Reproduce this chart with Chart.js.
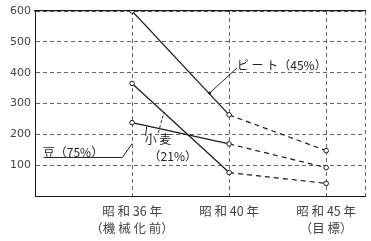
<!DOCTYPE html>
<html>
<head>
<meta charset="utf-8">
<script src="https://cdn.jsdelivr.net/npm/chart.js@4/dist/chart.umd.min.js"></script>
<style>
  html, body { margin: 0; padding: 0; background: #fff; }
  #wrap { width: 371px; height: 241px; }
</style>
</head>
<body>
<div id="wrap"><canvas id="laborChart"></canvas></div>
<script>
// 10a当たり労働時間（昭和36年・40年・45年）
const categories = ['昭 和 36 年', '昭 和 40 年', '昭 和 45 年'];
const categoryNotes = ['（機 械 化 前）', '', '（目 標）'];
const yTicks = [100, 200, 300, 400, 500, 600];

const beet = [600, 263, 147];   // ビート（45%）
const wheat = [365, 76, 41];    // 小麦（21%）
const beans = [238, 169, 92];   // 豆（75%）

const toPoints = arr => arr.map((v, i) => ({ x: i + 1, y: v }));
const ink = '#1a1a1a';
const jpFont = '"Noto Sans CJK JP", "Noto Sans", sans-serif';

// 36→40 は実線、40→45 は破線
function makeDataset(label, values) {
    return {
        label: label,
        data: toPoints(values),
        borderColor: ink,
        borderWidth: 1.2,
        pointRadius: 2.3,
        pointBorderWidth: 1,
        pointBackgroundColor: '#fff',
        pointBorderColor: ink,
        tension: 0,
        segment: {
            borderDash: ctx => ctx.p0DataIndex >= 1 ? [5, 4] : undefined
        }
    };
}

// 系列名と引き出し線
const labelPlugin = {
    id: 'seriesLabels',
    afterDatasetsDraw(chart) {
        const { ctx, scales: { x, y } } = chart;
        const px = v => x.getPixelForValue(v);
        const py = v => y.getPixelForValue(v);
        ctx.save();
        ctx.fillStyle = '#222';
        ctx.strokeStyle = '#222';
        ctx.lineWidth = 1;
        ctx.font = '12px ' + jpFont;
        ctx.textBaseline = 'middle';

        // ビート
        ctx.fillText('ビ ー ト（45%）', px(2.08), py(425));
        ctx.beginPath();
        ctx.moveTo(px(2.08), py(415));
        ctx.lineTo(px(1.8), py(334));
        ctx.stroke();
        ctx.beginPath();
        ctx.arc(px(1.8), py(334), 1.5, 0, Math.PI * 2);
        ctx.fill();

        // 小麦
        ctx.fillText('小 麦', px(1.13), py(182));
        ctx.fillText('（21%）', px(1.17), py(127));
        ctx.beginPath();
        ctx.moveTo(px(1.14), py(195));
        ctx.lineTo(px(1.15), py(225));
        ctx.stroke();
        ctx.setLineDash([3, 2]);
        ctx.beginPath();
        ctx.moveTo(px(1.27), py(205));
        ctx.lineTo(px(1.33), py(272));
        ctx.stroke();
        ctx.setLineDash([]);

        // 豆
        ctx.fillText('豆（75%）', px(0.08), py(142));
        ctx.beginPath();
        ctx.moveTo(px(0.1), py(125));
        ctx.lineTo(px(0.9), py(125));
        ctx.lineTo(px(1.0), py(170));
        ctx.stroke();
        ctx.restore();
    }
};

new Chart(document.getElementById('laborChart').getContext('2d'), {
    type: 'line',
    data: {
        datasets: [
            makeDataset('ビート（45%）', beet),
            makeDataset('小麦（21%）', wheat),
            makeDataset('豆（75%）', beans)
        ]
    },
    options: {
        responsive: true,
        maintainAspectRatio: false,
        animation: false,
        layout: { padding: { top: 11, right: 5, left: 0, bottom: 0 } },
        plugins: {
            legend: { display: false },
            tooltip: { enabled: false }
        },
        scales: {
            x: {
                type: 'linear',
                min: 0,
                max: 3.4,
                afterBuildTicks: scale => {
                    scale.ticks = [1, 2, 3, 3.4].map(v => ({ value: v }));
                },
                afterFit: scale => { scale.height = 45; },
                grid: { color: '#666', lineWidth: 1, drawTicks: false },
                border: { color: ink, width: 1, dash: [4, 3] },
                ticks: {
                    padding: 6,
                    maxRotation: 0,
                    autoSkip: false,
                    color: '#444',
                    font: { family: jpFont, size: 12.5, lineHeight: 1.4 },
                    callback: (value, index) => index < categories.length
                        ? [categories[index], categoryNotes[index]]
                        : ''
                }
            },
            top: {
                type: 'linear',
                position: 'top',
                min: 0,
                max: 3.4,
                afterFit: scale => { scale.height = 0; },
                grid: { display: false, drawTicks: false },
                border: { color: ink, width: 1.2 },
                ticks: { display: false }
            },
            y: {
                min: 0,
                max: 600,
                afterBuildTicks: scale => {
                    scale.ticks = [0].concat(yTicks).map(v => ({ value: v }));
                },
                afterFit: scale => { scale.width = 35; },
                grid: { color: '#666', lineWidth: 1, drawTicks: false },
                border: { color: ink, width: 1, dash: [4, 3] },
                ticks: {
                    padding: 4,
                    color: '#444',
                    font: { family: '"DejaVu Sans", sans-serif', size: 11 },
                    callback: value => value === 0 ? '' : value
                }
            }
        }
    },
    plugins: [labelPlugin]
});
</script>
</body>
</html>
